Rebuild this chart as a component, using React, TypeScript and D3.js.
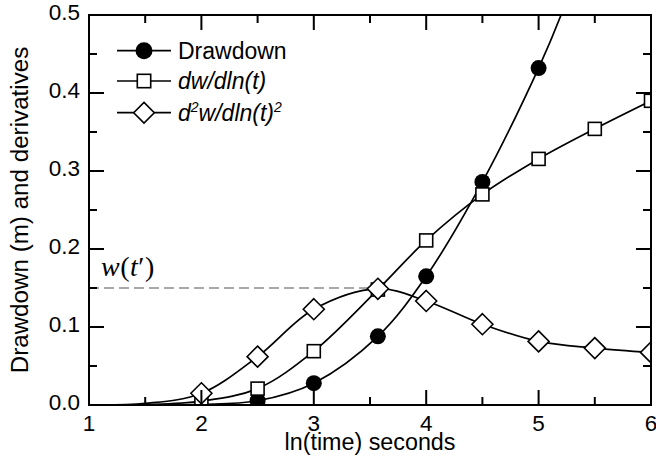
import React from "react";
import * as d3 from "d3";

// ---- data ----
const markerX = [2, 2.5, 3, 3.57, 4, 4.5, 5, 5.5, 6];
const drawdownX = [2.5, 3, 3.57, 4, 4.5, 5];
const drawdownY = [0.0055, 0.028, 0.088, 0.165, 0.286, 0.432];
const dwY = [0.005, 0.021, 0.069, 0.148, 0.211, 0.27, 0.3155, 0.354, 0.39];
const d2wY = [0.015, 0.062, 0.1228, 0.149, 0.1334, 0.1036, 0.0815, 0.073, 0.0674];

// curve tails (smooth lines run beyond the markers)
const drawdownCurveX = [1, 1.5, 2, ...drawdownX, 5.2, 5.35];
const drawdownCurveY = [0, 0, 0.0008, ...drawdownY, 0.5, 0.56];
const dwCurveX = [1, 1.5, ...markerX];
const dwCurveY = [0, 0.0005, ...dwY];
const d2wCurveX = [1, 1.5, ...markerX];
const d2wCurveY = [0, 0.002, ...d2wY];

const wtPrimeValue = 0.15;
const wtPrimeX = 3.57;

const xMajor = [1, 2, 3, 4, 5, 6];
const xMinor = [1.5, 2.5, 3.5, 4.5, 5.5];
const yMajor = [0, 0.1, 0.2, 0.3, 0.4, 0.5];
const yMinor = [0.05, 0.15, 0.25, 0.35, 0.45];

const W = 656;
const H = 466;
const L = 89, R = 651, T = 15, B = 405;
const FONT = "'Liberation Sans', Arial, Helvetica, sans-serif";

export default function App() {
  const x = d3.scaleLinear().domain([1, 6]).range([L, R]);
  const y = d3.scaleLinear().domain([0, 0.5]).range([B, T]);
  const line = d3
    .line<[number, number]>()
    .x((d) => x(d[0]))
    .y((d) => y(d[1]))
    .curve(d3.curveCatmullRom.alpha(0.5));

  const zip = (a: number[], b: number[]) => a.map((v, i) => [v, b[i]] as [number, number]);

  const circles = zip(drawdownX, drawdownY);
  const squares = zip(markerX, dwY);
  const diamonds = zip(markerX, d2wY);

  const sq = 13;
  const dm = 10.5;
  const cr = 8;

  const diamondPath = (cx: number, cy: number) =>
    `M${cx},${cy - dm}L${cx + dm},${cy}L${cx},${cy + dm}L${cx - dm},${cy}Z`;

  const legendRows = [50.7, 81, 112.7];

  return (
    <svg width={W} height={H} style={{ position: "absolute", left: 0, top: 0, background: "#fff" }}>
      <defs>
        <clipPath id="plot">
          <rect x={L} y={T} width={R - L} height={B - T} />
        </clipPath>
      </defs>
      <rect x={0} y={0} width={W} height={H} fill="#fff" />

      {/* dashed w(t') line */}
      <line
        x1={L}
        x2={x(wtPrimeX)}
        y1={y(wtPrimeValue)}
        y2={y(wtPrimeValue)}
        stroke="#8c8c8c"
        strokeWidth={1.6}
        strokeDasharray="10,5"
      />
      <text
        x={101}
        y={276}
        fontFamily="'Liberation Serif', 'Times New Roman', serif"
        fontSize={28}
        letterSpacing={0.5}
        fill="#000"
      >
        <tspan fontStyle="italic">w</tspan>
        <tspan>(</tspan>
        <tspan fontStyle="italic">t</tspan>
        <tspan>′)</tspan>
      </text>

      <g clipPath="url(#plot)">
        <path d={line(zip(drawdownCurveX, drawdownCurveY)) || ""} fill="none" stroke="#000" strokeWidth={1.7} />
        <path d={line(zip(dwCurveX, dwCurveY)) || ""} fill="none" stroke="#000" strokeWidth={1.7} />
        <path d={line(zip(d2wCurveX, d2wCurveY)) || ""} fill="none" stroke="#000" strokeWidth={1.7} />
        {circles.map((d, i) => (
          <circle key={"c" + i} cx={x(d[0])} cy={y(d[1])} r={cr} fill="#000" />
        ))}
        {squares.map((d, i) => (
          <rect
            key={"s" + i}
            x={x(d[0]) - sq / 2}
            y={y(d[1]) - sq / 2}
            width={sq}
            height={sq}
            fill="#fff"
            stroke="#000"
            strokeWidth={1.6}
          />
        ))}
        {diamonds.map((d, i) => (
          <path key={"d" + i} d={diamondPath(x(d[0]), y(d[1]))} fill="#fff" stroke="#000" strokeWidth={1.6} />
        ))}
      </g>

      {/* frame */}
      <rect x={L} y={T} width={R - L} height={B - T} fill="none" stroke="#000" strokeWidth={2} />

      {/* ticks */}
      {xMajor.map((v) => (
        <g key={"xM" + v}>
          <line x1={x(v)} x2={x(v)} y1={B} y2={B - 15} stroke="#000" strokeWidth={2} />
          <line x1={x(v)} x2={x(v)} y1={T} y2={T + 15} stroke="#000" strokeWidth={2} />
          <text x={x(v)} y={431} textAnchor="middle" fontFamily={FONT} fontSize={22.5} fill="#000">
            {d3.format("d")(v)}
          </text>
        </g>
      ))}
      {xMinor.map((v) => (
        <g key={"xm" + v}>
          <line x1={x(v)} x2={x(v)} y1={B} y2={B - 8} stroke="#000" strokeWidth={2} />
          <line x1={x(v)} x2={x(v)} y1={T} y2={T + 8} stroke="#000" strokeWidth={2} />
        </g>
      ))}
      {yMajor.map((v) => (
        <g key={"yM" + v}>
          <line x1={L} x2={L + 15} y1={y(v)} y2={y(v)} stroke="#000" strokeWidth={2} />
          <line x1={R} x2={R - 15} y1={y(v)} y2={y(v)} stroke="#000" strokeWidth={2} />
          <text x={80} y={y(v) + 5} textAnchor="end" fontFamily={FONT} fontSize={22.5} fill="#000">
            {d3.format(".1f")(v)}
          </text>
        </g>
      ))}
      {yMinor.map((v) => (
        <g key={"ym" + v}>
          <line x1={L} x2={L + 8} y1={y(v)} y2={y(v)} stroke="#000" strokeWidth={2} />
          <line x1={R} x2={R - 8} y1={y(v)} y2={y(v)} stroke="#000" strokeWidth={2} />
        </g>
      ))}

      {/* axis titles */}
      <text x={(L + R) / 2} y={450} textAnchor="middle" fontFamily={FONT} fontSize={23.3} fill="#000">
        ln(time) seconds
      </text>
      <text
        transform={`translate(28,${(T + B) / 2}) rotate(-90)`}
        textAnchor="middle"
        fontFamily={FONT}
        fontSize={24.2}
        fill="#000"
      >
        Drawdown (m) and derivatives
      </text>

      {/* legend */}
      <g fontFamily={FONT} fontSize={23} fill="#000">
        {legendRows.map((ry, i) => (
          <line key={"ll" + i} x1={117} x2={171} y1={ry} y2={ry} stroke="#000" strokeWidth={1.7} />
        ))}
        <circle cx={144} cy={legendRows[0]} r={8.5} fill="#000" />
        <rect x={144 - 6.7} y={legendRows[1] - 6.7} width={13.4} height={13.4} fill="#fff" stroke="#000" strokeWidth={1.6} />
        <path d={`M144,${legendRows[2] - 10.3}L154.3,${legendRows[2]}L144,${legendRows[2] + 10.3}L133.7,${legendRows[2]}Z`} fill="#fff" stroke="#000" strokeWidth={1.6} />
        <text x={178} y={legendRows[0] + 8}>Drawdown</text>
        <text x={178} y={legendRows[1] + 8} fontStyle="italic">dw/dln(t)</text>
        <text x={178} y={legendRows[2] + 8} fontStyle="italic">
          d<tspan fontSize={14} dy={-9}>2</tspan>
          <tspan dy={9}>w/dln(t)</tspan>
          <tspan fontSize={14} dy={-9}>2</tspan>
        </text>
      </g>
    </svg>
  );
}
